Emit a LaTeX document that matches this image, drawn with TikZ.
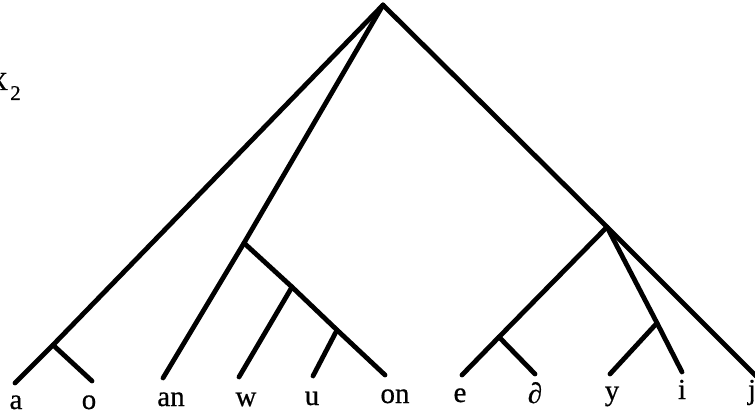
\documentclass[tikz,border=0pt]{standalone}
\usepackage{fontspec}
\setmainfont{Liberation Serif}[FakeBold=0.6]
\begin{document}
\begin{tikzpicture}[x=1pt,y=-1pt,
  branch/.style={line width=4.8pt,line cap=round,line join=round},
  leaf/.style={anchor=base,inner sep=0pt,font=\fontsize{29}{30}\selectfont}]
\useasboundingbox (0,0) rectangle (755,417);
% junctions and ends
\coordinate (R) at (383,5);
\coordinate (A) at (53,345);
\coordinate (ea) at (15,383);
\coordinate (eo) at (92,381);
\coordinate (ean) at (163,378);
\coordinate (N1) at (244,243);
\coordinate (N2) at (292,287);
\coordinate (N3) at (337,330);
\coordinate (eon) at (385,375);
\coordinate (ew) at (239,377);
\coordinate (eu) at (313,376);
\coordinate (M) at (607,227);
\coordinate (ej) at (756,376);
\coordinate (E) at (499,337);
\coordinate (ee) at (462,375);
\coordinate (ed) at (535,374);
\coordinate (I) at (657,323);
\coordinate (ei) at (682,372);
\coordinate (ey) at (610,374);
% branches
\draw[branch] (R) -- (A) -- (ea);
\draw[branch] (A) -- (eo);
\draw[branch] (R) -- (N1) -- (ean);
\draw[branch] (N1) -- (N2) -- (N3) -- (eon);
\draw[branch] (N2) -- (ew);
\draw[branch] (N3) -- (eu);
\draw[branch] (R) -- (M) -- (ej);
\draw[branch] (M) -- (E) -- (ee);
\draw[branch] (E) -- (ed);
\draw[branch] (M) -- (I) -- (ei);
\draw[branch] (I) -- (ey);
% labels
\node[leaf] (la) at (16,409) {a};
\node[leaf] (lo) at (89,409) {o};
\node[leaf] (lan) at (171,406) {an};
\node[leaf] (lw) at (246,406) {w};
\node[leaf] (lu) at (312,405) {u};
\node[leaf] (lon) at (395,403) {on};
\node[leaf] (le) at (460,402) {e};
\node[leaf] (ld) at (535,403) {∂};
\node[leaf] (ly) at (612,400) {y};
\node[leaf] (li) at (682,399) {i};
\node[leaf] (lj) at (752,399) {j};
% X_2
\node[anchor=base west,inner sep=0pt,font=\fontsize{26}{28}\selectfont] (X) at (-11,90) {X};
\node[anchor=base west,inner sep=0pt,font=\fontsize{21}{22}\selectfont] (X2) at (10,100) {2};
\end{tikzpicture}
\end{document}
